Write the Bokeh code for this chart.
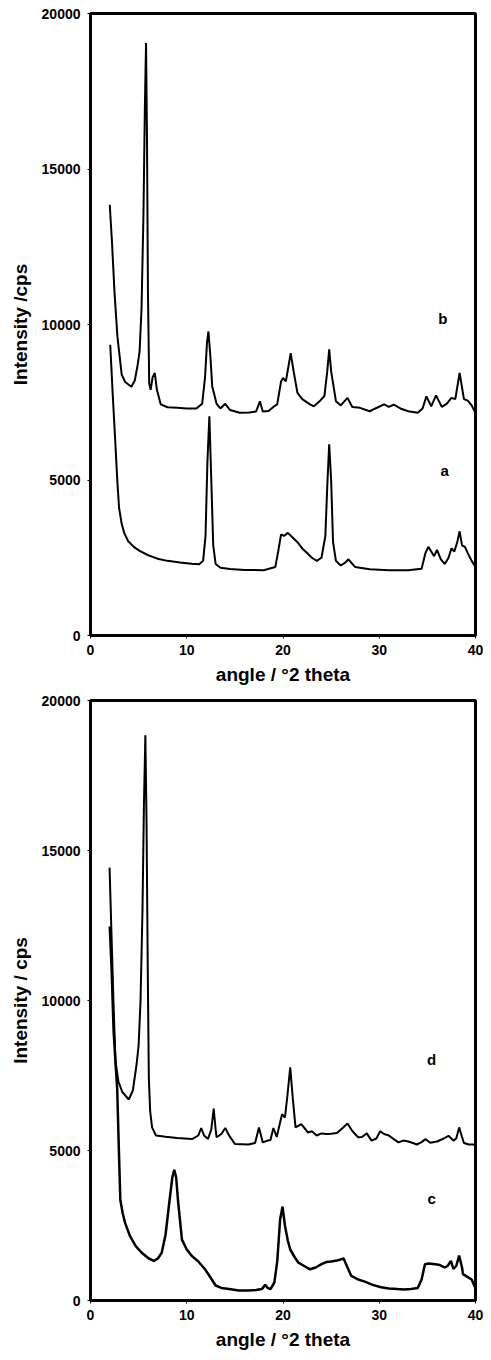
from bokeh.plotting import figure
from bokeh.layouts import column
from bokeh.models import Range1d, FixedTicker
from bokeh.core.properties import value
from bokeh.embed import file_html
from bokeh.resources import INLINE

# ---------------- data ----------------
x_ticks = [0, 10, 20, 30, 40]
y_ticks = [0, 5000, 10000, 15000, 20000]
x_title = "angle / \u00b02 theta"
y_title_top = "Intensity /cps"
y_title_bottom = "Intensity / cps"

# top panel, trace a
a_x = [2.05, 2.3, 2.57, 2.8, 2.97, 3.24, 3.5, 3.9, 4.5, 5.1, 6.0, 6.95, 8.0, 9.3, 10.5, 11.3,
       11.7, 11.95, 12.15, 12.35, 12.55, 12.75, 13.0, 13.5, 14.5, 16.0, 18.0, 19.2, 19.5, 19.8,
       20.1, 20.5, 21.0, 21.5, 22.0, 22.5, 23.0, 23.5, 24.0, 24.4, 24.6, 24.8, 25.0, 25.2, 25.5,
       26.0, 26.5, 26.8, 27.5, 29.0, 31.0, 33.0, 34.4, 34.8, 35.1, 35.4, 35.7, 36.0, 36.4, 36.8,
       37.2, 37.5, 37.8, 38.1, 38.35, 38.6, 38.9, 39.2, 39.6, 40.0]
a_y = [9350, 7800, 6250, 4900, 4100, 3590, 3300, 3040, 2850, 2720, 2580, 2470, 2400, 2350, 2310, 2290,
       2400, 3200, 5600, 7050, 5000, 2900, 2300, 2180, 2140, 2110, 2100, 2200, 2700, 3250,
       3200, 3300, 3150, 3000, 2800, 2650, 2500, 2400, 2500, 3200, 4800, 6150, 5000, 3000, 2400,
       2250, 2350, 2450, 2200, 2130, 2100, 2100, 2150, 2650, 2850, 2700, 2550, 2750, 2450, 2300,
       2500, 2800, 2700, 3000, 3350, 2900, 2850, 2650, 2400, 2200]

# top panel, trace b
b_x = [2.0, 2.23, 2.5, 2.8, 3.24, 3.6, 4.25, 4.6, 4.9, 5.1, 5.3, 5.5, 5.65, 5.77, 5.87, 5.97,
       6.1, 6.25, 6.45, 6.68, 6.9, 7.3, 8.0, 9.0, 10.0, 11.0, 11.6, 11.9, 12.1, 12.25, 12.45,
       12.65, 12.86, 13.1, 13.5, 14.0, 14.5, 15.5, 16.5, 17.2, 17.6, 17.9, 18.5, 19.0, 19.4,
       19.8, 20.0, 20.3, 20.8, 21.1, 21.5, 22.0, 22.8, 23.2, 23.8, 24.3, 24.6, 24.8, 25.0, 25.5,
       26.0, 26.7, 27.2, 28.0, 29.0, 29.6, 30.5, 31.0, 31.5, 32.2, 33.0, 34.0, 34.5, 34.9, 35.4,
       35.9, 36.5, 37.0, 37.5, 37.9, 38.35, 38.8, 39.2, 39.6, 40.0]
b_y = [13850, 12660, 11000, 9600, 8390, 8150, 8000, 8200, 8700, 9130, 10500, 13500, 17000, 19050, 16000, 11000,
       8100, 7900, 8300, 8440, 7900, 7430, 7340, 7320, 7300, 7300, 7450, 8300, 9400, 9775, 9000,
       8000, 7750, 7450, 7300, 7450, 7250, 7160, 7170, 7200, 7530, 7200, 7220, 7350, 7430,
       8170, 8280, 8170, 9080, 8500, 7800, 7600, 7430, 7370, 7530, 7700, 8500, 9200, 8500, 7530,
       7400, 7640, 7350, 7320, 7210, 7300, 7430, 7350, 7420, 7300, 7210, 7160, 7300, 7690, 7370,
       7720, 7350, 7450, 7640, 7600, 8440, 7600, 7550, 7400, 7150]

# bottom panel, trace c
c_x = [2.0, 2.2, 2.4, 2.6, 2.77, 2.95, 3.1, 3.35, 3.6, 4.1, 4.7, 5.3, 6.05, 6.6, 7.0, 7.4,
       7.8, 8.2, 8.5, 8.7, 8.9, 9.1, 9.5, 10.0, 10.55, 11.2, 11.9, 12.5, 13.0, 13.6, 14.4,
       15.4, 16.4, 17.2, 17.8, 18.15, 18.4, 18.7, 19.1, 19.4, 19.7, 19.95, 20.2, 20.5, 20.75,
       21.2, 21.6, 22.2, 22.8, 23.4, 24.0, 24.5, 25.0, 25.6, 26.3, 26.7, 27.1, 27.8, 28.5,
       29.3, 30.2, 31.0, 31.9, 32.6, 33.3, 34.0, 34.4, 34.75, 35.2, 35.8, 36.3, 36.8, 37.1,
       37.45, 37.7, 38.0, 38.3, 38.6, 38.7, 39.2, 39.6, 39.95]
c_y = [12470, 11000, 9000, 7900, 7090, 5000, 3350, 2900, 2580, 2150, 1810, 1600, 1400, 1320, 1400, 1590,
       2200, 3300, 4100, 4360, 4100, 3300, 2030, 1700, 1480, 1300, 1040, 750, 500, 420, 380,
       330, 330, 350, 380, 520, 420, 380, 600, 1300, 2700, 3130, 2500, 2000, 1700,
       1450, 1260, 1150, 1040, 1100, 1210, 1280, 1300, 1330, 1400, 1100, 820, 700, 630,
       520, 440, 400, 380, 370, 380, 420, 700, 1210, 1230, 1210, 1180, 1100, 1150,
       1320, 1050, 1150, 1500, 1100, 880, 780, 700, 440]

# bottom panel, trace d
d_x = [1.98, 2.2, 2.4, 2.6, 2.9, 3.3, 3.98, 4.4, 4.8, 5.0, 5.2, 5.4, 5.55, 5.7, 5.82, 5.95,
       6.06, 6.2, 6.4, 6.8, 7.8, 9.0, 10.55, 11.2, 11.5, 11.8, 12.2, 12.55, 12.8, 13.0, 13.1,
       13.6, 14.0, 14.4, 15.0, 16.4, 17.1, 17.5, 17.9, 18.4, 18.7, 19.0, 19.35, 19.6, 19.9,
       20.2, 20.45, 20.75, 21.0, 21.3, 21.9, 22.6, 23.0, 23.5, 24.0, 24.5, 25.0, 25.6, 26.2,
       26.7, 27.2, 27.8, 28.2, 28.7, 29.2, 29.7, 30.1, 30.5, 31.0, 31.5, 32.0, 32.5, 33.0,
       33.5, 33.9, 34.4, 34.8, 35.3, 36.0, 36.7, 37.2, 37.7, 38.0, 38.3, 38.6, 38.8, 39.3, 39.9]
d_y = [14430, 12000, 9800, 7970, 7300, 6950, 6700, 7000, 7900, 8510, 10000, 13000, 16500, 18840, 16000, 11000,
       7420, 6300, 5770, 5500, 5460, 5420, 5380, 5500, 5750, 5500, 5380, 5700, 6400, 5700, 5440,
       5550, 5750, 5500, 5220, 5200, 5250, 5770, 5270, 5330, 5350, 5750, 5450, 5800, 6210,
       6100, 6800, 7770, 6800, 5770, 5880, 5600, 5640, 5500, 5570, 5550, 5560, 5580, 5750,
       5900, 5650, 5440, 5450, 5570, 5330, 5400, 5640, 5550, 5500, 5380, 5270, 5330, 5300,
       5250, 5200, 5280, 5380, 5260, 5300, 5400, 5490, 5330, 5400, 5770, 5450, 5250, 5200, 5200]

top_labels = ["b", "a"]
top_label_x = [36.6, 36.8]
top_label_y = [10180, 5310]
bottom_labels = ["d", "c"]
bottom_label_x = [35.45, 35.45]
bottom_label_y = [8020, 3400]

FONT = "Liberation Sans"


def make_panel(height, left, top, bottom, right, ytitle):
    p = figure(width=483, height=height, output_backend="svg", toolbar_location=None,
               x_range=Range1d(0, 40), y_range=Range1d(0, 20000),
               min_border_left=left, min_border_right=right,
               min_border_top=top, min_border_bottom=bottom)
    p.xgrid.grid_line_color = None
    p.ygrid.grid_line_color = None
    p.outline_line_color = "black"
    p.outline_line_width = 3
    p.outline_line_alpha = 1
    p.background_fill_color = "white"
    p.border_fill_color = "white"
    p.xaxis.ticker = FixedTicker(ticks=x_ticks)
    p.yaxis.ticker = FixedTicker(ticks=y_ticks)
    for ax in (p.xaxis, p.yaxis):
        ax.axis_line_width = 3
        ax.axis_line_color = "black"
        ax.major_tick_line_width = 1
        ax.major_tick_line_color = "black"
        ax.major_tick_in = 0
        ax.major_tick_out = 3
        ax.minor_tick_line_color = None
        ax.major_label_text_font = FONT
        ax.major_label_text_font_style = "bold"
        ax.major_label_text_font_size = "14px"
        ax.major_label_text_color = "black"
        ax.axis_label_text_font = FONT
        ax.axis_label_text_font_style = "bold"
        ax.axis_label_text_font_size = "19px"
        ax.axis_label_text_color = "black"
    p.xaxis.major_label_standoff = 6
    p.yaxis.major_label_standoff = 7
    p.xaxis.axis_label = x_title
    p.yaxis.axis_label = ytitle
    p.xaxis.axis_label_standoff = 6
    p.yaxis.axis_label_standoff = 8
    return p


p1 = make_panel(687, 80, 13, 50, 8, y_title_top)
p1.line(a_x, a_y, line_color="black", line_width=2)
p1.line(b_x, b_y, line_color="black", line_width=2)
p1.text(x=top_label_x, y=top_label_y, text=top_labels, text_font=value(FONT),
        text_font_style="bold", text_font_size="15px", text_align="center",
        text_baseline="middle", text_color="black")

p2 = make_panel(665, 90, 13, 45, 7, y_title_bottom)
p2.line(c_x, c_y, line_color="black", line_width=2.5)
p2.line(d_x, d_y, line_color="black", line_width=2)
p2.text(x=bottom_label_x, y=bottom_label_y, text=bottom_labels, text_font=value(FONT),
        text_font_style="bold", text_font_size="15px", text_align="center",
        text_baseline="middle", text_color="black")

layout = column(p1, p2)
open("out.html", "w").write(file_html(layout, INLINE))
